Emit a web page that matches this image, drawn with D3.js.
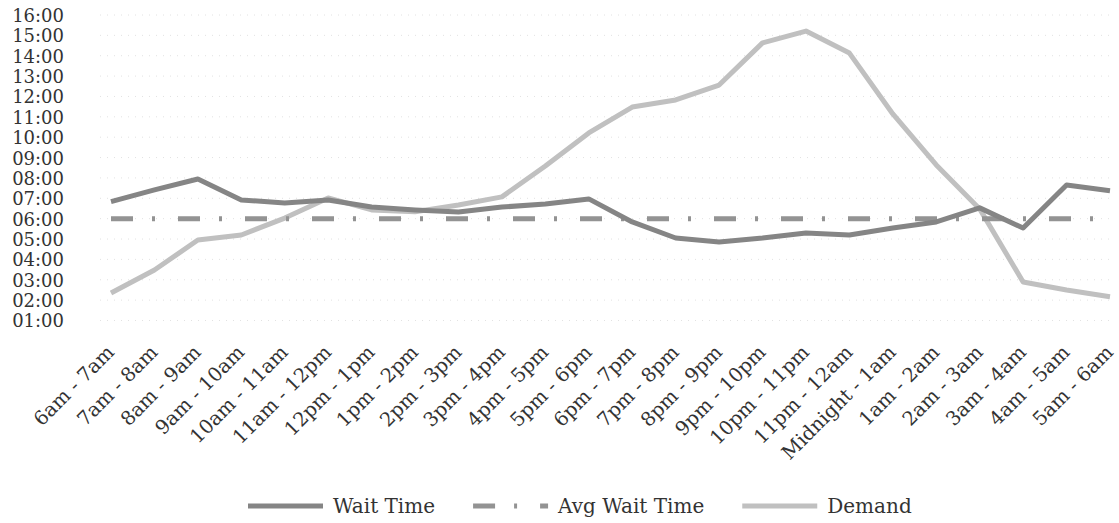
<!DOCTYPE html>
<html><head><meta charset="utf-8">
<script src="https://cdn.jsdelivr.net/npm/d3@7"></script>
<style>
html,body{margin:0;padding:0;background:#fff;}
svg{display:block;}
text{font-family:"DejaVu Serif",serif;fill:#333;}
</style></head>
<body><svg id="c" width="1119" height="523"></svg>
<script>
const categories = ["6am - 7am","7am - 8am","8am - 9am","9am - 10am","10am - 11am","11am - 12pm","12pm - 1pm","1pm - 2pm","2pm - 3pm","3pm - 4pm","4pm - 5pm","5pm - 6pm","6pm - 7pm","7pm - 8pm","8pm - 9pm","9pm - 10pm","10pm - 11pm","11pm - 12am","Midnight - 1am","1am - 2am","2am - 3am","3am - 4am","4am - 5am","5am - 6am"];
// values in hours (e.g. 6.5 = 06:30)
const waitTime = [6.84,7.41,7.95,6.92,6.77,6.92,6.57,6.43,6.33,6.57,6.72,6.97,5.84,5.05,4.86,5.05,5.30,5.20,5.54,5.84,6.53,5.54,7.65,7.37];
const avgWaitTime = [6,6,6,6,6,6,6,6,6,6,6,6,6,6,6,6,6,6,6,6,6,6,6,6];
const demand = [2.35,3.48,4.95,5.20,6.03,7.02,6.43,6.34,6.67,7.07,8.59,10.21,11.48,11.83,12.56,14.63,15.21,14.13,11.14,8.64,6.48,2.89,2.50,2.17];
const yTicks = [1,2,3,4,5,6,7,8,9,10,11,12,13,14,15,16];
const seriesNames = ["Wait Time","Avg Wait Time","Demand"];

const svg = d3.select("#c");
const x = d3.scalePoint().domain(categories).range([111, 1110]);
const y = d3.scaleLinear().domain([1,16]).range([320.5, 15]);
const fmt = v => { const h = Math.floor(v), m = Math.round((v-h)*60); return String(h).padStart(2,"0")+":"+String(m).padStart(2,"0"); };

// gridlines
svg.append("g").selectAll("line").data(yTicks).join("line")
  .attr("x1",100).attr("x2",1112).attr("y1",d=>y(d)).attr("y2",d=>y(d))
  .attr("stroke","#e2e2e2").attr("stroke-width",1).attr("stroke-dasharray","1,6");

// y axis
const yAxis = svg.append("g").attr("transform","translate(64,0)")
  .call(d3.axisLeft(y).tickValues(yTicks).tickFormat(fmt).tickSize(0).tickPadding(0));
yAxis.select(".domain").remove();
yAxis.selectAll("text").style("font-size","18px").attr("fill","#333").attr("dy","0.36em");

// x axis
const xAxis = svg.append("g").attr("transform","translate(0,320.5)")
  .call(d3.axisBottom(x).tickSize(0).tickPadding(0));
xAxis.select(".domain").remove();
xAxis.selectAll("text")
  .style("font-size","19.5px").attr("fill","#333")
  .attr("text-anchor","end")
  .attr("y",0).attr("dy","0.35em")
  .attr("transform","translate(-1,28) rotate(-45)");

const line = d3.line().x((d,i)=>x(categories[i])).y(d=>y(d));
const colors = {"Wait Time":"#858585","Avg Wait Time":"#939393","Demand":"#c0c0c0"};
const dash = {"Wait Time":null,"Avg Wait Time":"22,19,3,23","Demand":null};

svg.append("path").datum(demand).attr("d",line).attr("fill","none")
  .attr("stroke",colors["Demand"]).attr("stroke-width",5).attr("stroke-linejoin","round");
svg.append("path").datum(avgWaitTime).attr("d",line).attr("fill","none")
  .attr("stroke",colors["Avg Wait Time"]).attr("stroke-width",5).attr("stroke-dasharray",dash["Avg Wait Time"]);
svg.append("path").datum(waitTime).attr("d",line).attr("fill","none")
  .attr("stroke",colors["Wait Time"]).attr("stroke-width",5).attr("stroke-linejoin","round");

// legend
const lg = svg.append("g");
let lx = 248;
const ly = 506;
seriesNames.forEach(n=>{
  lg.append("line").attr("x1",lx).attr("x2",lx+75).attr("y1",ly).attr("y2",ly)
    .attr("stroke",colors[n]).attr("stroke-width",5).attr("stroke-dasharray",dash[n]);
  const t = lg.append("text").attr("x",lx+85).attr("y",ly).attr("dy","0.35em")
    .style("font-size","20px").attr("fill","#333").text(n);
  lx += 85 + t.node().getComputedTextLength() + 38;
});
</script></body></html>
